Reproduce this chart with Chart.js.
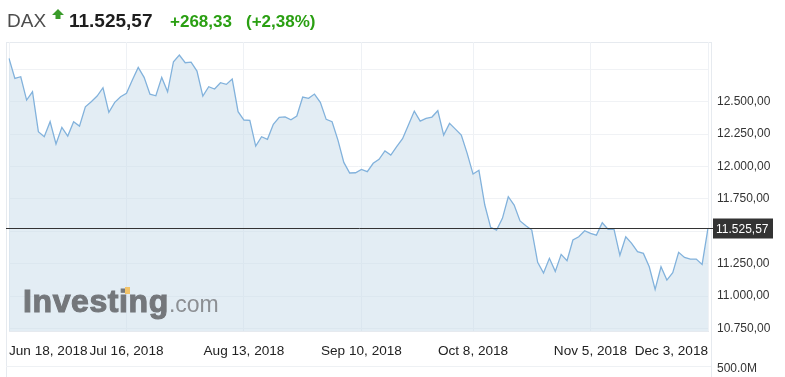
<!DOCTYPE html>
<html>
<head>
<meta charset="utf-8">
<script src="https://cdn.jsdelivr.net/npm/chart.js@4.4.0/dist/chart.umd.min.js"></script>
<style>
body { margin:0; width:785px; height:377px; overflow:hidden; background:#fff; position:relative;
  font-family:'Liberation Sans', Arial, sans-serif; }
.t { position:absolute; white-space:nowrap; line-height:1; }
#frame { position:absolute; left:6px; top:42px; width:704px; height:340px;
  border-left:1px solid #e6eaef; border-right:1px solid #e6eaef; border-top:1px solid #e6eaef; }
#volLine { position:absolute; left:6px; top:366px; width:705px; height:0; border-top:1px solid #eef1f4; }
#logo { position:absolute; left:23px; top:285px; white-space:nowrap; line-height:1; }
</style>
</head>
<body>
<div id="frame"></div>
<div id="volLine"></div>
<canvas id="myChart" width="785" height="377" style="position:absolute;left:0;top:0"></canvas>

<span class="t" style="left:7px;top:11px;font-size:19px;color:#4d4d4d">DAX</span>
<svg style="position:absolute;left:52px;top:9px" width="12" height="11" viewBox="0 0 12 11">
  <polygon points="6,0 12,6 8.5,6 8.5,10 3.5,10 3.5,6 0,6" fill="#3a9b2a"/>
</svg>
<span class="t" style="left:69px;top:11px;font-size:19px;font-weight:bold;color:#1e1e1e">11.525,57</span>
<span class="t" style="left:170px;top:12.6px;font-size:17px;font-weight:bold;color:#2a9f12">+268,33</span>
<span class="t" style="left:246px;top:12.6px;font-size:17px;font-weight:bold;color:#2a9f12">(+2,38%)</span>

<div id="logo"><span style="font-size:32px;font-weight:bold;letter-spacing:0.6px;color:#74777b;-webkit-text-stroke:1.1px #74777b">Investing</span><span style="font-size:23px;color:#8c8f93">.com</span></div>
<div style="position:absolute;left:125px;top:287px;width:5px;height:7px;background:#f1c36a"></div>

<span class="t" style="left:717px;top:362px;font-size:12px;color:#333">500.0M</span>

<script>
'use strict';

// trading days, Jun 18 - Dec 3 2018
let dates = [
  'Jun 18','Jun 19','Jun 20','Jun 21','Jun 22','Jun 25','Jun 26','Jun 27','Jun 28','Jun 29',
  'Jul 2','Jul 3','Jul 4','Jul 5','Jul 6','Jul 9','Jul 10','Jul 11','Jul 12','Jul 13',
  'Jul 16','Jul 17','Jul 18','Jul 19','Jul 20','Jul 23','Jul 24','Jul 25','Jul 26','Jul 27',
  'Jul 30','Jul 31','Aug 1','Aug 2','Aug 3','Aug 6','Aug 7','Aug 8','Aug 9','Aug 10',
  'Aug 13','Aug 14','Aug 15','Aug 16','Aug 17','Aug 20','Aug 21','Aug 22','Aug 23','Aug 24',
  'Aug 27','Aug 28','Aug 29','Aug 30','Aug 31','Sep 3','Sep 4','Sep 5','Sep 6','Sep 7',
  'Sep 10','Sep 11','Sep 12','Sep 13','Sep 14','Sep 17','Sep 18','Sep 19','Sep 20','Sep 21',
  'Sep 24','Sep 25','Sep 26','Sep 27','Sep 28','Oct 1','Oct 2','Oct 4','Oct 5',
  'Oct 8','Oct 9','Oct 10','Oct 11','Oct 12','Oct 15','Oct 16','Oct 17','Oct 18','Oct 19',
  'Oct 22','Oct 23','Oct 24','Oct 25','Oct 26','Oct 29','Oct 30','Oct 31','Nov 1','Nov 2',
  'Nov 5','Nov 6','Nov 7','Nov 8','Nov 9','Nov 12','Nov 13','Nov 14','Nov 15','Nov 16',
  'Nov 19','Nov 20','Nov 21','Nov 22','Nov 23','Nov 26','Nov 27','Nov 28','Nov 29','Nov 30',
  'Dec 3'
];

let closes = [
  12835,12680,12693,12513,12577,12269,12230,12346,12174,12302,
  12235,12346,12312,12461,12500,12544,12608,12418,12495,12539,
  12565,12667,12765,12688,12559,12546,12688,12577,12809,12860,
  12801,12806,12737,12544,12616,12598,12647,12634,12675,12423,
  12359,12357,12158,12230,12210,12326,12380,12383,12361,12390,
  12536,12526,12559,12495,12364,12346,12204,12032,11950,11952,
  11978,11960,12025,12056,12120,12089,12153,12215,12320,12428,
  12351,12372,12382,12431,12243,12333,12289,12243,12102,
  11942,11971,11703,11531,11510,11600,11767,11703,11580,11543,
  11510,11261,11178,11292,11191,11322,11273,11433,11458,11505,
  11485,11471,11566,11515,11515,11315,11458,11407,11343,11330,
  11227,11052,11227,11124,11181,11338,11299,11286,11286,11245,
  11525.57
];

let xTickDates = ['Jun 18','Jul 16','Aug 13','Sep 10','Oct 8','Nov 5','Dec 3'];
let yTicks = [10750, 11000, 11250, 11500, 11750, 12000, 12250, 12500, 12750];
let yHidden = [11500, 12750];
let yMin = 10731;
let yMax = 12961;

function fmt(v){
  let parts = v.toFixed(2).split('.');
  let int = parts[0].replace(/\B(?=(\d{3})+(?!\d))/g, '.');
  return int + ',' + parts[1];
}

let lastPrice = {
  id: 'lastPrice',
  afterDatasetsDraw(chart){
    let ctx = chart.ctx;
    let area = chart.chartArea;
    let last = closes[closes.length - 1];
    let y = Math.round(chart.scales.y.getPixelForValue(last)) + 0.5;
    ctx.save();
    ctx.strokeStyle = '#333';
    ctx.lineWidth = 1;
    ctx.beginPath();
    ctx.moveTo(area.left - 3, y);
    ctx.lineTo(area.right + 5, y);
    ctx.stroke();
    ctx.fillStyle = '#333';
    ctx.fillRect(713, y - 10, 60, 20);
    ctx.fillStyle = '#fff';
    ctx.font = '12px "Liberation Sans", Arial, sans-serif';
    ctx.textBaseline = 'middle';
    ctx.fillText(fmt(last), 716, y + 1);
    ctx.restore();
  }
};

let ctx = document.getElementById('myChart').getContext('2d');
let chart = new Chart(ctx, {
  type: 'line',
  data: {
    labels: dates,
    datasets: [{
      data: closes,
      borderColor: '#82b2dc',
      borderWidth: 1.3,
      backgroundColor: 'rgba(200,219,233,0.5)',
      fill: 'start',
      pointRadius: 0,
      tension: 0
    }]
  },
  options: {
    responsive: false,
    animation: false,
    layout: { padding: { top: 42, left: 9, right: 0, bottom: 0 } },
    plugins: { legend: { display: false }, tooltip: { enabled: false } },
    scales: {
      x: {
        afterBuildTicks: (axis) => {
          axis.ticks = xTickDates.map(d => ({ value: dates.indexOf(d) }));
        },
        afterFit: (axis) => {
          axis.height = 46;
          axis.paddingLeft = 0;
          axis.paddingRight = 0;
        },
        grid: { color: '#eef1f5', drawTicks: false },
        border: { color: '#e6eaef' },
        ticks: {
          autoSkip: false,
          maxRotation: 0,
          align: 'inner',
          padding: 12,
          color: '#222',
          font: { size: 13.6, family: '"Liberation Sans", Arial, sans-serif' },
          callback: (v) => dates[v] + ', 2018'
        }
      },
      y: {
        position: 'right',
        min: yMin,
        max: yMax,
        afterBuildTicks: (axis) => {
          axis.ticks = yTicks.map(v => ({ value: v }));
        },
        afterFit: (axis) => { axis.width = 77; },
        grid: { color: '#f0f2f5', drawTicks: false },
        border: { display: false },
        ticks: {
          padding: 9,
          color: '#333',
          font: { size: 12, family: '"Liberation Sans", Arial, sans-serif' },
          callback: (v) => yHidden.includes(v) ? '' : fmt(v)
        }
      }
    }
  },
  plugins: [lastPrice]
});
</script>
</body>
</html>
